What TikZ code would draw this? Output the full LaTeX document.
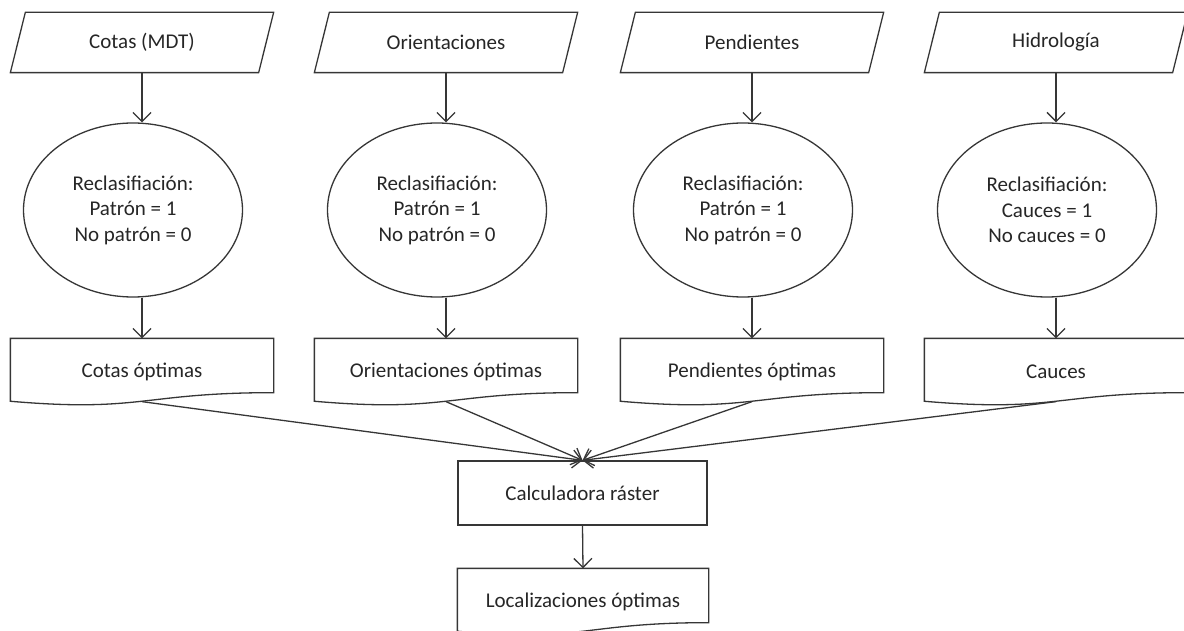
\documentclass[tikz,border=0pt]{standalone}
\usepackage{fontspec}
\setmainfont{Carlito}
\usetikzlibrary{arrows.meta}
\usetikzlibrary{shapes.geometric}
\usetikzlibrary{positioning}

\definecolor{linea}{HTML}{363636}
\definecolor{texto}{HTML}{262626}

\tikzset{
    entrada/.style={minimum width=247pt,minimum height=59pt,inner sep=0pt},
    recl/.style={ellipse,draw,minimum width=219pt,minimum height=174pt,inner sep=0pt,align=center},
    capa/.style={minimum width=262pt,minimum height=66pt,inner sep=0pt},
    calc/.style={rectangle,draw,minimum width=249pt,minimum height=64pt,inner sep=0pt}
}

\begin{document}
\begin{tikzpicture}[x=1pt,y=-1pt,line width=1.3pt,draw=linea,text=texto,
        font=\fontsize{21}{25.5}\selectfont,>={Straight Barb[length=9pt,width=18pt]}]
    \useasboundingbox (0,0) rectangle (1184,631);

    % datos de entrada
    \node[entrada] (dato1) at (142,42.5) {Cotas (MDT)};
    \node[entrada] (dato2) at (446,42.5) {Orientaciones};
    \node[entrada] (dato3) at (752,42.5) {Pendientes};
    \node[entrada] (dato4) at (1056,42.5) {Hidrología};

    % reclasificaciones
    \node[recl] (recl1) at (133,210) {Reclasifiación:\\Patrón = 1\\No patrón = 0};
    \node[recl] (recl2) at (437,210) {Reclasifiación:\\Patrón = 1\\No patrón = 0};
    \node[recl] (recl3) at (743,210) {Reclasifiación:\\Patrón = 1\\No patrón = 0};
    \node[recl] (recl4) at (1047,210) {Reclasifiación:\\Cauces = 1\\No cauces = 0};

    % capas resultantes
    \node[capa] (capa1) at (142,372) {Cotas óptimas};
    \node[capa] (capa2) at (446,372) {Orientaciones óptimas};
    \node[capa] (capa3) at (752,372) {Pendientes óptimas};
    \node[capa] (capa4) at (1056,372) {Cauces};

    \node[calc] (raster) at (582.5,493) {Calculadora ráster};
    \node[capa,minimum width=250pt] (loc) at (583,602) {Localizaciones óptimas};

    % paralelogramos
    \foreach \n in {dato1,dato2,dato3,dato4}
        \draw ([xshift=-7.5pt]\n.south west) -- ([xshift=-7.5pt]\n.south east)
            -- ([xshift=7.5pt]\n.north east) -- ([xshift=7.5pt]\n.north west) -- cycle;

    % documentos con borde ondulado
    \foreach \n in {capa1,capa2,capa3,capa4,loc}
        \draw (\n.north west) -- (\n.north east) -- ([yshift=13pt]\n.south east)
            .. controls ([yshift=13pt]\n.south) and ([yshift=-7pt]\n.south) .. ([yshift=4.4pt]\n.south west) -- cycle;

    \foreach \i in {1,2,3,4} {
        \draw[->] (dato\i.south) -- (dato\i.south |- recl\i.north);
        \draw[->] (dato\i.south |- recl\i.south) -- (capa\i.north);
        \draw[->] ([yshift=4pt]capa\i.south) -- (raster.north);
    }
    \draw[->] (raster.south) -- (loc.north);
\end{tikzpicture}
\end{document}
